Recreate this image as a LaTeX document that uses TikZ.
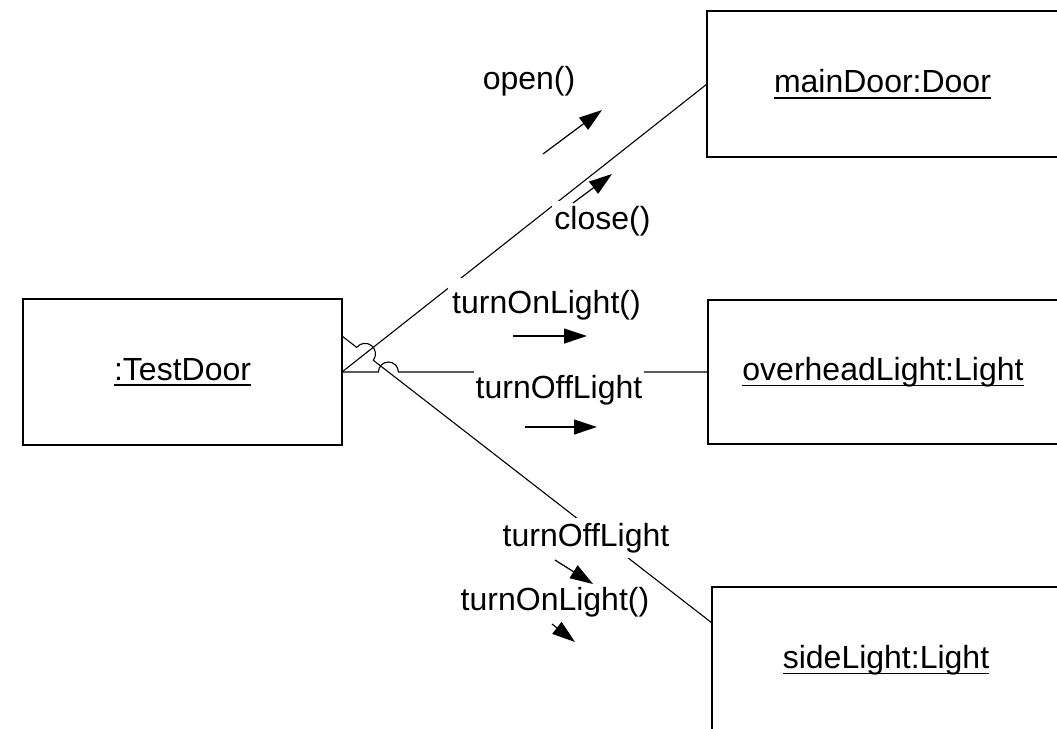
\documentclass[tikz,border=0pt]{standalone}
\usepackage{fontspec}
\setmainfont{Liberation Sans}
\usetikzlibrary{arrows.meta,calc,intersections}

% object names are underlined at a fixed depth, crossing descenders
\newsavebox{\objnamebox}
\newcommand{\objname}[1]{\sbox{\objnamebox}{#1}\rlap{\rule[-3pt]{\wd\objnamebox}{0.8pt}}\usebox{\objnamebox}}

\begin{document}
\begin{tikzpicture}[x=0.5pt,y=-0.5pt,
  object/.style={draw,line width=0.9pt,inner sep=0pt,outer sep=0pt,
    font=\fontsize{16}{19}\selectfont},
  link/.style={line width=0.55pt},
  msg/.style={fill=white,inner xsep=1pt,inner ysep=2.5pt,anchor=base,
    font=\fontsize{16}{19}\selectfont},
  msgarrow/.style={line width=0.6pt,-{Triangle[length=11.5pt,width=7.5pt]}}]

\useasboundingbox (0,0) rectangle (1057,729);
\clip (0,0) rectangle (1057,729);

% objects
\node[object,minimum width=159.5pt,minimum height=73pt] (td) at (182.5,372) {\objname{:TestDoor}};
\node[object,minimum width=175.5pt,minimum height=73pt] (md) at (882.5,84) {\objname{mainDoor:Door}};
\node[object,minimum width=175pt,minimum height=72pt] (ol) at (883,372) {\objname{overheadLight:Light}};
\node[object,minimum width=174pt,minimum height=73pt] (sl) at (886,660) {\objname{sideLight:Light}};

% links, with hops where they cross
\coordinate (s3) at ($(td.east)+(0,-36)$);
\coordinate (e3) at ($(sl.west)+(0,-37)$);
\path[name path=l1] (td.east) -- (md.west);
\path[name path=l2] (td.east) -- (ol.west);
\path[name path=l3] (s3) -- (e3);
\path[name intersections={of=l1 and l3,by=x13}];
\path[name intersections={of=l2 and l3,by=x23}];

\draw[link] (td.east) -- (md.west);
\draw[link] (td.east) -- ($(x23)!5pt!(td.east)$)
  arc[start angle=180,end angle=0,radius=5pt] -- (ol.west);
\draw[link] let \p1=($(e3)-(s3)$), \n1={atan2(\y1,\x1)} in
  (s3) -- ($(x13)!5.25pt!(s3)$)
  arc[start angle=\n1+180,end angle=\n1,radius=5.25pt] -- (e3);

% message labels
\node[msg] (lopen) at (529,89) {open()};
\node[msg] (lclose) at (602.5,229.5) {close()};
\node[msg,inner xsep=2pt,inner ysep=6pt] (lon1) at (546.5,313) {turnOnLight()};
\node[msg] (loff1) at (559,398.5) {turnOffLight};
\node[msg] (loff2) at (586,546.5) {turnOffLight};
\node[msg] (lon2) at (555,610) {turnOnLight()};

% message arrows
\coordinate (a1s) at (543,154); \coordinate (a1e) at (602,110);
\coordinate (a2s) at (573,203); \coordinate (a2e) at (612,174);
\coordinate (a3s) at (513,336); \coordinate (a3e) at (587,336);
\coordinate (a4s) at (525,427); \coordinate (a4e) at (597,427);
\coordinate (a5s) at (555,560); \coordinate (a5e) at (593,584);
\coordinate (a6s) at (552,624); \coordinate (a6e) at (575,642);
\draw[msgarrow] (a1s) -- (a1e);
\draw[msgarrow] (a2s) -- (a2e);
\draw[msgarrow] (a3s) -- (a3e);
\draw[msgarrow] (a4s) -- (a4e);
\draw[msgarrow] (a5s) -- (a5e);
\draw[msgarrow] (a6s) -- (a6e);
\end{tikzpicture}
\end{document}
